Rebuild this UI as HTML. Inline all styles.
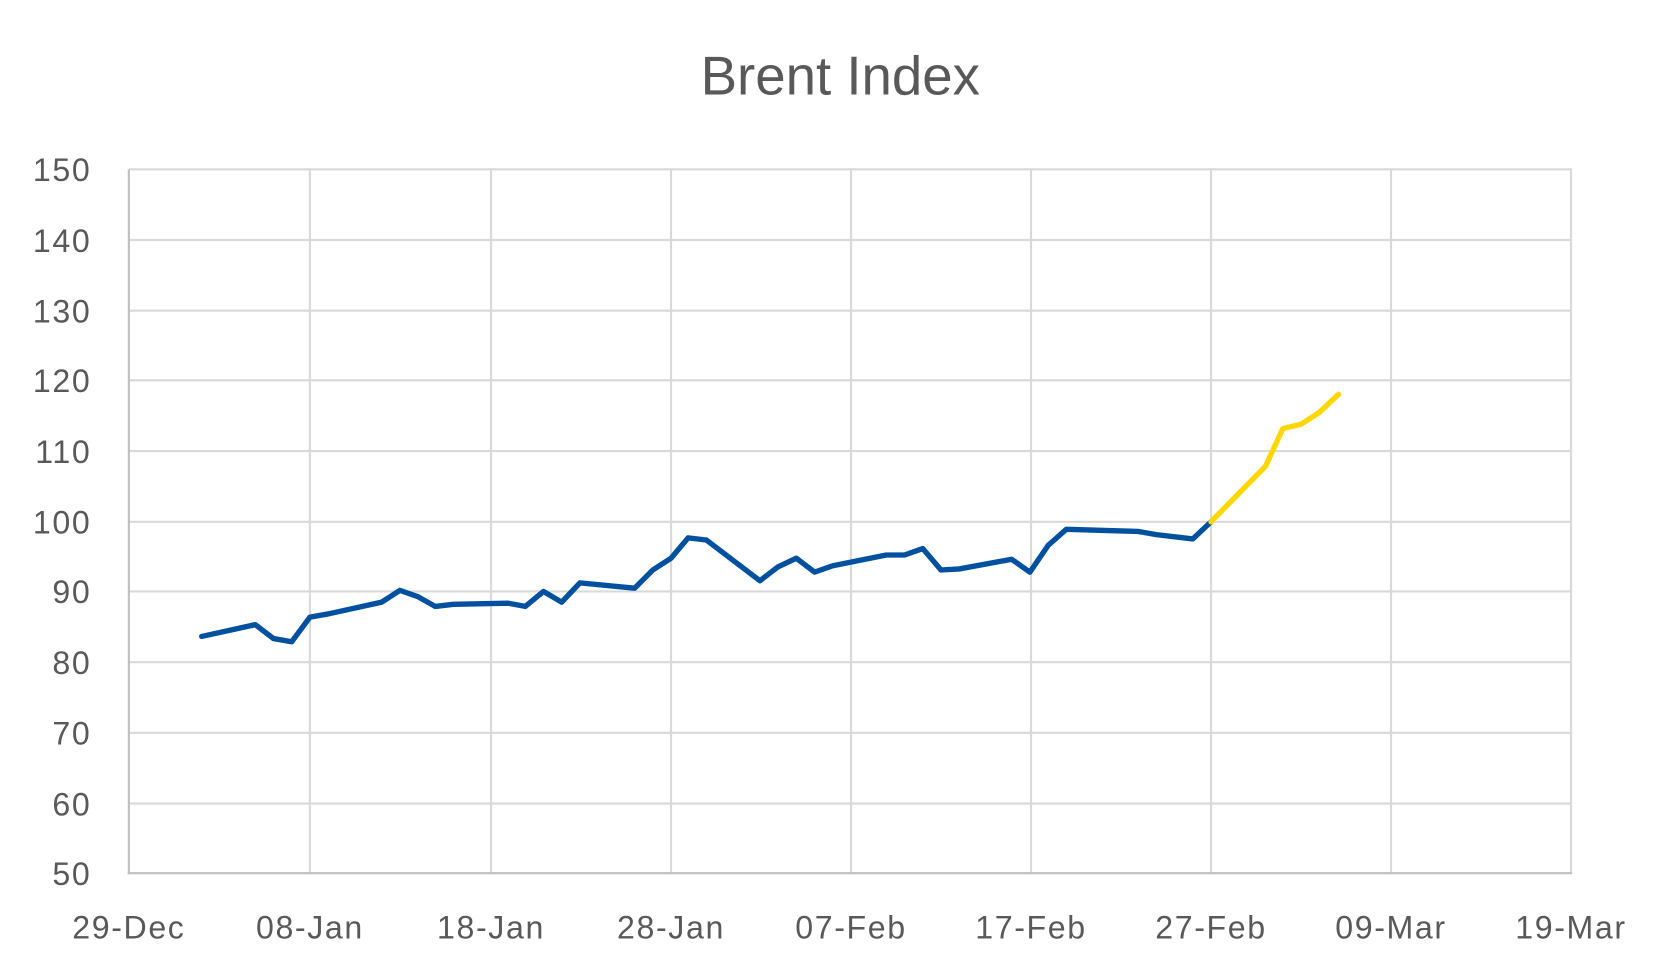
<!DOCTYPE html>
<html><head><meta charset="utf-8"><style>
html,body{margin:0;padding:0;background:#fff;}
svg{display:block;}
text{font-family:"Liberation Sans",sans-serif;fill:#595959;}
</style></head><body>
<svg width="1672" height="975" viewBox="0 0 1560 910" xmlns="http://www.w3.org/2000/svg">
<rect width="1560" height="910" fill="#fff"/>
<text x="784" y="88" font-size="51" text-anchor="middle">Brent Index</text>
<g stroke="#d9d9d9" stroke-width="2">
<line x1="120" y1="158" x2="1467" y2="158"/>
<line x1="120" y1="224" x2="1467" y2="224"/>
<line x1="120" y1="290" x2="1467" y2="290"/>
<line x1="120" y1="355" x2="1467" y2="355"/>
<line x1="120" y1="421" x2="1467" y2="421"/>
<line x1="120" y1="487" x2="1467" y2="487"/>
<line x1="120" y1="552" x2="1467" y2="552"/>
<line x1="120" y1="618" x2="1467" y2="618"/>
<line x1="120" y1="684" x2="1467" y2="684"/>
<line x1="120" y1="750" x2="1467" y2="750"/>
<line x1="289" y1="158" x2="289" y2="815"/>
<line x1="458" y1="158" x2="458" y2="815"/>
<line x1="626" y1="158" x2="626" y2="815"/>
<line x1="794" y1="158" x2="794" y2="815"/>
<line x1="962" y1="158" x2="962" y2="815"/>
<line x1="1130" y1="158" x2="1130" y2="815"/>
<line x1="1298" y1="158" x2="1298" y2="815"/>
<line x1="1466" y1="158" x2="1466" y2="815"/>
</g>
<line x1="120" y1="158" x2="120" y2="816" stroke="#bfbfbf" stroke-width="2"/>
<line x1="119" y1="815" x2="1467" y2="815" stroke="#bfbfbf" stroke-width="2"/>
<g font-size="30" text-anchor="end" letter-spacing="1.5">
<text x="85" y="169">150</text><text x="85" y="235">140</text><text x="85" y="301">130</text>
<text x="85" y="366">120</text><text x="85" y="432">110</text><text x="85" y="498">100</text>
<text x="85" y="563">90</text><text x="85" y="629">80</text><text x="85" y="695">70</text>
<text x="85" y="761">60</text><text x="85" y="826">50</text>
</g>
<g font-size="30" text-anchor="middle" letter-spacing="1.5">
<text x="120" y="876">29-Dec</text><text x="289" y="876">08-Jan</text><text x="458" y="876">18-Jan</text>
<text x="626" y="876">28-Jan</text><text x="794" y="876">07-Feb</text><text x="962" y="876">17-Feb</text>
<text x="1130" y="876">27-Feb</text><text x="1298" y="876">09-Mar</text><text x="1466" y="876">19-Mar</text>
</g>
<polyline fill="none" stroke="#0050A0" stroke-width="5" stroke-linejoin="round" stroke-linecap="round"
points="188,594 238,583 255,596 272,599 289,576 306,573 356,562 373,551 390,557 406,566 423,564 474,563 490,566 507,552 524,562 541,544 592,549 609,532 626,521 642,502 659,504 709,542 726,529 743,521 760,534 777,528 827,518 844,518 861,512 878,532 895,531 944,522 961,534 978,509 995,494 1062,496 1079,499 1113,503 1130,487"/>
<polyline fill="none" stroke="#FFD700" stroke-width="5" stroke-linejoin="round" stroke-linecap="round"
points="1130,487 1181,435 1197,400 1214,396 1231,385 1249,368"/>
</svg>
</body></html>
